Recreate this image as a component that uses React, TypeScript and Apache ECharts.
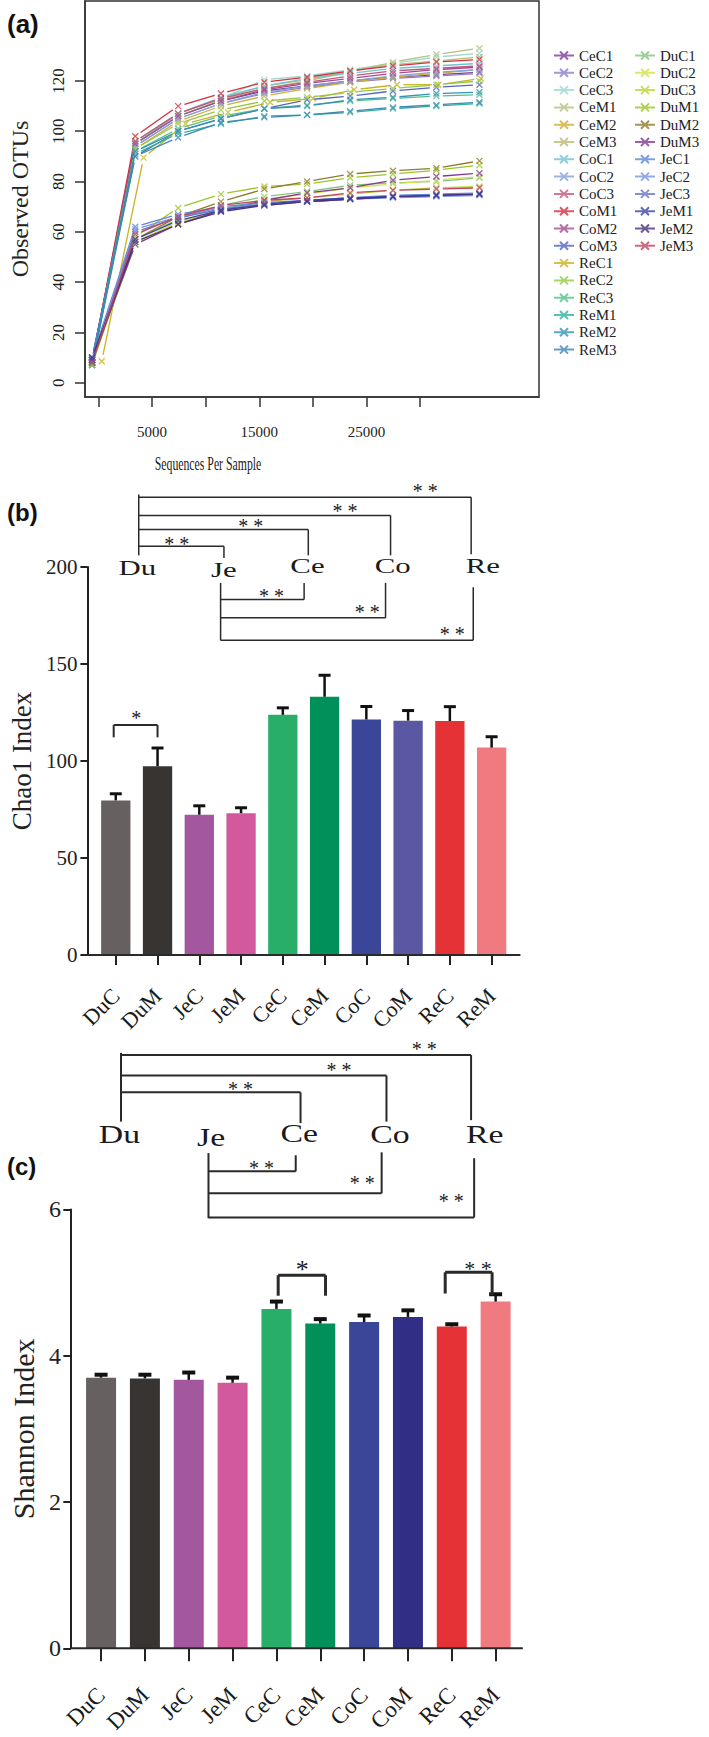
import React, { useEffect, useRef } from 'react';
import * as echarts from 'echarts';

const SERIF = '"Liberation Serif", "Times New Roman", Times, serif';
const SANS = '"Liberation Sans", Arial, Helvetica, sans-serif';

// ---------- Panel (a): rarefaction curves ----------
const sampleNames = [
  'CeC1', 'CeC2', 'CeC3', 'CeM1', 'CeM2', 'CeM3',
  'CoC1', 'CoC2', 'CoC3', 'CoM1', 'CoM2', 'CoM3',
  'ReC1', 'ReC2', 'ReC3', 'ReM1', 'ReM2', 'ReM3',
  'DuC1', 'DuC2', 'DuC3', 'DuM1', 'DuM2', 'DuM3',
  'JeC1', 'JeC2', 'JeC3', 'JeM1', 'JeM2', 'JeM3',
];
const sampleColors = [
  '#7a3f9c', '#8c7fd0', '#9fd6cf', '#b4bf7e', '#d2ad37', '#b8bb72',
  '#72c3d3', '#83a3d6', '#c2587a', '#d2303f', '#a24c8f', '#5664c2',
  '#c9b322', '#93c94a', '#55c087', '#2fb19f', '#3392b5', '#3d87b4',
  '#86c27f', '#d3e14a', '#b9d63a', '#9dc52a', '#8e7c2c', '#833a8e',
  '#5f86d8', '#7a95df', '#6673c9', '#3c46a4', '#4a2f82', '#c3435f',
];
const seqDepth = [-600, 3430, 7430, 11420, 15470, 19460, 23480, 27470, 31520, 35540];
const seqDepthReC1 = [300, 4200, 8130, 12090, 16020, 20010, 23850, 27840, 31700, 35660];
const xTickValues = [0, 5000, 10000, 15000, 20000, 25000, 30000];
const xLabelValues = [5000, 15000, 25000];
const yTickValues = [0, 20, 40, 60, 80, 100, 120];

const otuCeC = [
  [8, 95, 106, 112, 116, 118, 120, 121.5, 122.5, 123.5],
  [9, 94, 105, 111, 115, 117.5, 119.5, 121, 122, 123],
  [7, 96, 107, 113, 120.5, 122, 124.5, 127, 129.5, 131],
];
const otuCeM = [
  [8, 95, 106, 112.5, 117, 120, 123.5, 127.5, 130.5, 133],
  [9, 93, 104, 110, 114, 117, 119.5, 121.5, 123, 124.5],
  [8, 96, 107, 113, 118, 120.5, 124, 126.5, 128, 129.5],
];
const otuCoC = [
  [7, 95, 107, 113.5, 118, 121, 123, 125, 126, 127],
  [8, 94, 105, 111, 115.5, 118, 120, 122, 123.5, 124.5],
  [9, 96, 107, 113, 117, 119.5, 122, 124, 125, 126],
];
const otuCoM = [
  [8, 98, 110, 115, 119.5, 121.5, 124, 126, 127.5, 128.5],
  [9, 95, 106, 112, 116.5, 119, 121, 123, 124.5, 125.5],
  [10, 90, 100, 105, 109, 112.5, 114, 116, 117.5, 118.5],
];
const otuReC = [
  [8.5, 89.5, 103, 107.5, 111.5, 113, 116.5, 118.5, 118.5, 121],
  [8, 93, 103, 108.5, 112, 113.5, 115.5, 117, 118.5, 120],
  [7, 92, 101, 106, 109, 110.5, 112, 113, 114, 114.5],
];
const otuReM = [
  [8, 91, 99, 103, 106, 106.5, 107.5, 109, 110, 111],
  [9, 92, 100, 105, 109, 110, 112.5, 113.5, 115, 115.5],
  [7, 90, 97.5, 103.5, 105.5, 106.5, 108, 109.5, 110.5, 111.5],
];
const otuDuC = [
  [8, 57, 65, 70.5, 74, 76, 78.5, 79.5, 80, 81.5],
  [9, 56, 64, 69, 73, 75, 77.5, 79, 80.5, 82],
  [8, 55, 63.5, 68.5, 72, 73.5, 75, 76.5, 77.5, 78],
];
const otuDuM = [
  [7, 58, 69.5, 75, 78, 79, 81.5, 83, 84.5, 86.5],
  [8, 57, 66, 72, 77, 80, 83, 84.3, 85.3, 88.2],
  [9, 55, 63, 68.5, 72.5, 75.5, 77.5, 80.5, 82, 83.3],
];
const otuJeC = [
  [10, 62, 67, 70, 71.5, 72.5, 73.5, 74.5, 75, 75.5],
  [9, 61, 66, 69.5, 71, 72, 73, 73.5, 74, 74.5],
  [8, 60, 65.5, 69, 70.5, 72, 73, 74, 74.5, 75],
];
const otuJeM = [
  [9, 57, 64.5, 68.5, 71, 72.5, 73.5, 74, 74.5, 75],
  [10, 56, 63, 68, 70.5, 72, 73, 74, 74.5, 75],
  [8, 59, 66, 70.5, 72.5, 73.5, 75.5, 76.5, 77, 77.5],
];

// ---------- Panels (b) and (c): bars ----------
const groupNames = ['DuC', 'DuM', 'JeC', 'JeM', 'CeC', 'CeM', 'CoC', 'CoM', 'ReC', 'ReM'];
const chaoMean = [79.7, 97.3, 72.3, 73.1, 123.8, 133.1, 121.4, 120.8, 120.6, 106.9];
const chaoUpper = [83.1, 106.7, 76.9, 75.9, 127.4, 144.2, 128.1, 126.0, 128.0, 112.5];
const chaoColors = ['#666160', '#383431', '#a2579f', '#d2599c', '#29ae6a', '#009059', '#3a4697', '#5b58a3', '#e53236', '#ef7a80'];
const shannonMean = [3.70, 3.69, 3.67, 3.63, 4.64, 4.44, 4.46, 4.53, 4.40, 4.74];
const shannonUpper = [3.74, 3.74, 3.77, 3.70, 4.74, 4.50, 4.55, 4.62, 4.43, 4.84];
const shannonColors = ['#666160', '#383431', '#a2579f', '#d2599c', '#29ae6a', '#009059', '#3a4697', '#312f85', '#e53236', '#ef7a80'];

// significance annotations (x in category units, y in data units)
const annotB = {
  axisFrom: -0.67, axisTo: 9.69,
  upRoot: { x: 0.55, top: 237.4, bottom: 206 },
  up: [
    { tx: 2.59, y: 210.7, leg: 204.7, sx: 1.46, so: 5 },
    { tx: 4.61, y: 219.3, leg: 206, sx: 3.23, so: 6.6 },
    { tx: 6.58, y: 226.6, leg: 206, sx: 5.49, so: 7.3 },
    { tx: 8.51, y: 236.0, leg: 206.6, sx: 7.41, so: 8.7 },
  ],
  labels: [['Du', 0.515, 199.9], ['Je', 2.59, 198.6], ['Ce', 4.59, 200.6], ['Co', 6.63, 200.6], ['Re', 8.79, 200.6]],
  lowRoot: { x: 2.51, top: 191.8, bottom: 162.2 },
  low: [
    { tx: 4.51, y: 183.3, leg: 191.8, sx: 3.73, so: 6 },
    { tx: 6.46, y: 173.8, leg: 191.8, sx: 6.02, so: 8.4 },
    { tx: 8.56, y: 162.2, leg: 189.6, sx: 8.06, so: 9.3 },
  ],
  pairs: [{ x1: -0.05, x2: 1.0, y: 118.5, l1: 112.2, l2: 112.2, text: '*', sx: 0.49, so: 10, fs: 20, lw: 2 }],
  labelFont: 22, labelScale: 1.4, starFont: 20, lineW: 1.5,
};
const annotC = {
  axisFrom: -0.68, axisTo: 9.62,
  upRoot: { x: 0.455, top: 8.14, bottom: 7.2 },
  up: [
    { tx: 4.55, y: 7.6, leg: 7.18, sx: 3.18, so: 6.6 },
    { tx: 6.51, y: 7.83, leg: 7.2, sx: 5.43, so: 8.4 },
    { tx: 8.44, y: 8.11, leg: 7.22, sx: 7.37, so: 9.3 },
  ],
  labels: [['Du', 0.42, 7.02], ['Je', 2.51, 6.99], ['Ce', 4.52, 7.04], ['Co', 6.59, 7.02], ['Re', 8.75, 7.03]],
  lowRoot: { x: 2.45, top: 6.77, bottom: 5.88 },
  low: [
    { tx: 4.44, y: 6.52, leg: 6.74, sx: 3.66, so: 6.7 },
    { tx: 6.4, y: 6.22, leg: 6.78, sx: 5.96, so: 13.3 },
    { tx: 8.51, y: 5.89, leg: 6.7, sx: 7.99, so: 19.4 },
  ],
  pairs: [
    { x1: 4.04, x2: 5.12, y: 5.1, l1: 4.82, l2: 4.82, text: '*', sx: 4.59, so: 8.3, fs: 26, lw: 3 },
    { x1: 7.85, x2: 8.92, y: 5.14, l1: 4.85, l2: 4.83, text: '* *', sx: 8.6, so: 7.3, fs: 22, lw: 3 },
  ],
  labelFont: 26, labelScale: 1.3, starFont: 20, lineW: 2,
};

function annotRenderer(spec: any) {
  return (_params: any, api: any) => {
    const c0 = api.coord([0, 0]);
    const c1 = api.coord([1, 0]);
    const px = (i: number) => c0[0] + i * (c1[0] - c0[0]);
    const py = (v: number) => api.coord([0, v])[1];
    const ink = '#2a2a2a';
    const ch: any[] = [];
    const seg = (x1: number, y1: number, x2: number, y2: number, w: number) =>
      ch.push({ type: 'line', shape: { x1, y1, x2, y2 }, style: { stroke: ink, lineWidth: w } });
    const txt = (text: string, x: number, y: number, fs: number, sx = 1) =>
      ch.push({
        type: 'text', x, y, scaleX: sx,
        style: { text, fill: '#1a1a1a', font: `${fs}px ${SERIF}`, align: 'center', verticalAlign: 'middle' },
      });
    seg(px(spec.axisFrom), py(0), px(spec.axisTo), py(0), 2);
    const lw = spec.lineW;
    const ur = spec.upRoot;
    seg(px(ur.x), py(ur.top), px(ur.x), py(ur.bottom), lw);
    spec.up.forEach((b: any) => {
      seg(px(ur.x), py(b.y), px(b.tx), py(b.y), lw);
      seg(px(b.tx), py(b.y), px(b.tx), py(b.leg), lw);
      txt('* *', px(b.sx), py(b.y) - b.so + 3, spec.starFont);
    });
    const lr = spec.lowRoot;
    seg(px(lr.x), py(lr.top), px(lr.x), py(lr.bottom), lw);
    spec.low.forEach((b: any) => {
      seg(px(lr.x), py(b.y), px(b.tx), py(b.y), lw);
      seg(px(b.tx), py(b.y), px(b.tx), py(b.leg), lw);
      txt('* *', px(b.sx), py(b.y) - b.so + 3, spec.starFont);
    });
    spec.labels.forEach((l: any) => txt(l[0], px(l[1]), py(l[2]), spec.labelFont, spec.labelScale));
    spec.pairs.forEach((p: any) => {
      seg(px(p.x1), py(p.y), px(p.x2), py(p.y), p.lw);
      seg(px(p.x1), py(p.y), px(p.x1), py(p.l1), p.lw);
      seg(px(p.x2), py(p.y), px(p.x2), py(p.l2), p.lw);
      txt(p.text, px(p.sx), py(p.y) - p.so + 3, p.fs);
    });
    return { type: 'group', children: ch };
  };
}

function errRenderer(capW: number, capLw: number, stemLw: number) {
  return (_params: any, api: any) => {
    const i = api.value(0);
    const p0 = api.coord([i, api.value(1)]);
    const p1 = api.coord([i, api.value(2)]);
    return {
      type: 'group',
      children: [
        { type: 'line', shape: { x1: p0[0], y1: p0[1], x2: p1[0], y2: p1[1] }, style: { stroke: '#111', lineWidth: stemLw } },
        { type: 'line', shape: { x1: p1[0] - capW / 2, y1: p1[1], x2: p1[0] + capW / 2, y2: p1[1] }, style: { stroke: '#111', lineWidth: capLw } },
      ],
    };
  };
}

const X_MIN = -1262;
const X_MAX = 41096;
const axisInk = '#222';

function buildOption(): any {
  const otuRows = [...otuCeC, ...otuCeM, ...otuCoC, ...otuCoM, ...otuReC, ...otuReM, ...otuDuC, ...otuDuM, ...otuJeC, ...otuJeM];
  const depthOf = (name: string) => (name === 'ReC1' ? seqDepthReC1 : seqDepth);
  const xSym = 'path://M0,0L10,10M10,0L0,10';
  // sample points (x marks)
  const pointSeries = sampleNames.map((name, k) => {
    const c = sampleColors[k];
    return {
      name, type: 'scatter', xAxisIndex: 0, yAxisIndex: 0,
      data: depthOf(name).map((x, j) => [x, otuRows[k][j]]),
      symbol: xSym, symbolSize: 6,
      itemStyle: { color: c, borderColor: c, borderWidth: 1.3 },
      emphasis: { disabled: true }, silent: true, z: 3,
    };
  });
  // R-style "b" lines: segments that stop short of each point
  const segData: number[][] = [];
  sampleNames.forEach((name, k) => {
    const xs = depthOf(name);
    for (let j = 0; j < xs.length - 1; j++) {
      segData.push([xs[j], otuRows[k][j], xs[j + 1], otuRows[k][j + 1], k]);
    }
  });
  const segSeries = {
    type: 'custom', xAxisIndex: 0, yAxisIndex: 0, silent: true, z: 2,
    data: segData,
    encode: { x: [0, 2], y: [1, 3] },
    renderItem: (_p: any, api: any) => {
      const a = api.coord([api.value(0), api.value(1)]);
      const b = api.coord([api.value(2), api.value(3)]);
      const dx = b[0] - a[0];
      const dy = b[1] - a[1];
      const len = Math.hypot(dx, dy) || 1;
      const g = Math.min(6.5, len * 0.3);
      const ux = dx / len;
      const uy = dy / len;
      return {
        type: 'line',
        shape: { x1: a[0] + ux * g, y1: a[1] + uy * g, x2: b[0] - ux * g, y2: b[1] - uy * g },
        style: { stroke: sampleColors[api.value(4)], lineWidth: 1.3 },
      };
    },
  };
  const legendBase = {
    orient: 'vertical', top: 48, itemWidth: 20, itemHeight: 10, itemGap: 2.3, padding: 0,
    icon: 'path://M0,5L20,5M6,1L14,9M14,1L6,9',
    textStyle: { fontFamily: SERIF, fontSize: 15, lineHeight: 13, color: '#222' },
    selectedMode: false,
  };
  const catLabel = (fs: number, margin: number) => ({
    show: true, rotate: 45, interval: 0, fontSize: fs, fontFamily: SERIF, color: '#1a1a1a', margin,
  });
  return {
    animation: false,
    backgroundColor: '#ffffff',
    textStyle: { fontFamily: SERIF },
    legend: [
      { ...legendBase, left: 553, data: sampleNames.slice(0, 18) },
      { ...legendBase, left: 634, data: sampleNames.slice(18) },
    ],
    grid: [
      { left: 79, top: 1, width: 460, height: 396, show: true, borderColor: '#333', borderWidth: 1.5, backgroundColor: 'transparent' },
      { left: 77.5, top: 567, width: 435, height: 388 },
      { left: 62.55, top: 1209.4, width: 455, height: 438.9 },
    ],
    xAxis: [
      {
        gridIndex: 0, type: 'value', min: X_MIN, max: X_MAX,
        axisLine: { show: true, onZero: false, lineStyle: { color: '#333', width: 1.5 } },
        axisTick: { show: true, length: 10, customValues: xTickValues, lineStyle: { color: '#333', width: 1.5 } },
        axisLabel: {
          customValues: xLabelValues, fontSize: 15, fontFamily: SERIF, color: axisInk, margin: 27,
          formatter: (v: number) => String(v),
        },
        splitLine: { show: false },
      },
      {
        gridIndex: 1, type: 'category', data: groupNames,
        axisLine: { show: false },
        axisTick: { show: true, alignWithLabel: true, length: 10, lineStyle: { color: axisInk, width: 2 } },
        axisLabel: catLabel(22, 37),
      },
      {
        gridIndex: 2, type: 'category', data: groupNames,
        axisLine: { show: false },
        axisTick: { show: true, alignWithLabel: true, length: 13, lineStyle: { color: axisInk, width: 2 } },
        axisLabel: catLabel(23, 43),
      },
    ],
    yAxis: [
      {
        gridIndex: 0, type: 'value', min: -5.7, max: 151.8,
        axisLine: { show: true, onZero: false, lineStyle: { color: '#333', width: 1.5 } },
        axisTick: { show: true, length: 10, customValues: yTickValues, lineStyle: { color: '#333', width: 1.5 } },
        axisLabel: { show: false },
        splitLine: { show: false },
        name: 'Observed OTUs', nameLocation: 'middle', nameRotate: 90, nameGap: 53,
        nameTextStyle: { fontSize: 24, fontFamily: SERIF, color: axisInk },
      },
      {
        gridIndex: 1, type: 'value', min: 0, max: 200, interval: 50, offset: 7.5,
        axisLine: { show: true, onZero: false, lineStyle: { color: axisInk, width: 2 } },
        axisTick: { show: true, length: 7, lineStyle: { color: axisInk, width: 2 } },
        axisLabel: { fontSize: 21, fontFamily: SERIF, color: axisInk, margin: 10 },
        splitLine: { show: false },
        name: 'Chao1 Index', nameLocation: 'middle', nameRotate: 90, nameGap: 42,
        nameTextStyle: { fontSize: 27, fontFamily: SERIF, color: axisInk },
      },
      {
        gridIndex: 2, type: 'value', min: 0, max: 6, interval: 2, offset: 8.25,
        axisLine: { show: true, onZero: false, lineStyle: { color: axisInk, width: 2 } },
        axisTick: { show: true, length: 7.6, lineStyle: { color: axisInk, width: 2 } },
        axisLabel: { fontSize: 24, fontFamily: SERIF, color: axisInk, margin: 10 },
        splitLine: { show: false },
        name: 'Shannon Index', nameLocation: 'middle', nameRotate: 90, nameGap: 27,
        nameTextStyle: { fontSize: 30, fontFamily: SERIF, color: axisInk },
      },
    ],
    series: [
      segSeries,
      ...pointSeries,
      {
        type: 'custom', xAxisIndex: 0, yAxisIndex: 0, silent: true, clip: false,
        data: yTickValues.map((v) => [X_MIN, v]),
        renderItem: (_p: any, api: any) => {
          const p = api.coord([api.value(0), api.value(1)]);
          return {
            type: 'text', x: p[0] - 27, y: p[1], rotation: Math.PI / 2,
            style: { text: String(api.value(1)), font: `17px ${SERIF}`, fill: axisInk, align: 'center', verticalAlign: 'middle' },
          };
        },
      },
      {
        name: 'Chao1', type: 'bar', xAxisIndex: 1, yAxisIndex: 1, barWidth: 29.3,
        data: chaoMean.map((v, i) => ({ value: v, itemStyle: { color: chaoColors[i] } })),
        silent: true,
      },
      {
        type: 'custom', xAxisIndex: 1, yAxisIndex: 1, silent: true, z: 4,
        data: chaoMean.map((m, i) => [i, m, chaoUpper[i]]),
        encode: { x: 0, y: [1, 2] },
        renderItem: errRenderer(12, 3, 2.5),
      },
      {
        type: 'custom', xAxisIndex: 1, yAxisIndex: 1, silent: true, clip: false, z: 5,
        data: [[0, 0]],
        renderItem: annotRenderer(annotB),
      },
      {
        name: 'Shannon', type: 'bar', xAxisIndex: 2, yAxisIndex: 2, barWidth: 30,
        data: shannonMean.map((v, i) => ({ value: v, itemStyle: { color: shannonColors[i] } })),
        silent: true,
      },
      {
        type: 'custom', xAxisIndex: 2, yAxisIndex: 2, silent: true, z: 4,
        data: shannonMean.map((m, i) => [i, m, shannonUpper[i]]),
        encode: { x: 0, y: [1, 2] },
        renderItem: errRenderer(13, 4, 2.5),
      },
      {
        type: 'custom', xAxisIndex: 2, yAxisIndex: 2, silent: true, clip: false, z: 5,
        data: [[0, 0]],
        renderItem: annotRenderer(annotC),
      },
    ],
    graphic: [
      { type: 'text', left: 7, top: 11, style: { text: '(a)', font: `bold 26px ${SANS}`, fill: '#111' } },
      { type: 'text', left: 7, top: 500, style: { text: '(b)', font: `bold 24px ${SANS}`, fill: '#111' } },
      { type: 'text', left: 7, top: 1154, style: { text: '(c)', font: `bold 24px ${SANS}`, fill: '#111' } },
      {
        type: 'text', x: 208, y: 463, scaleX: 0.62,
        style: { text: 'Sequences Per Sample', font: `19px ${SERIF}`, fill: '#222', align: 'center', verticalAlign: 'middle' },
      },
    ],
  };
}

export default function App() {
  const ref = useRef<HTMLDivElement>(null);
  useEffect(() => {
    const chart = echarts.init(ref.current as HTMLDivElement, null, { renderer: 'svg' });
    chart.setOption(buildOption());
    return () => chart.dispose();
  }, []);
  return (
    <div
      ref={ref}
      style={{ position: 'absolute', left: 0, top: 0, width: 709, height: 1737, background: '#fff' }}
    />
  );
}
